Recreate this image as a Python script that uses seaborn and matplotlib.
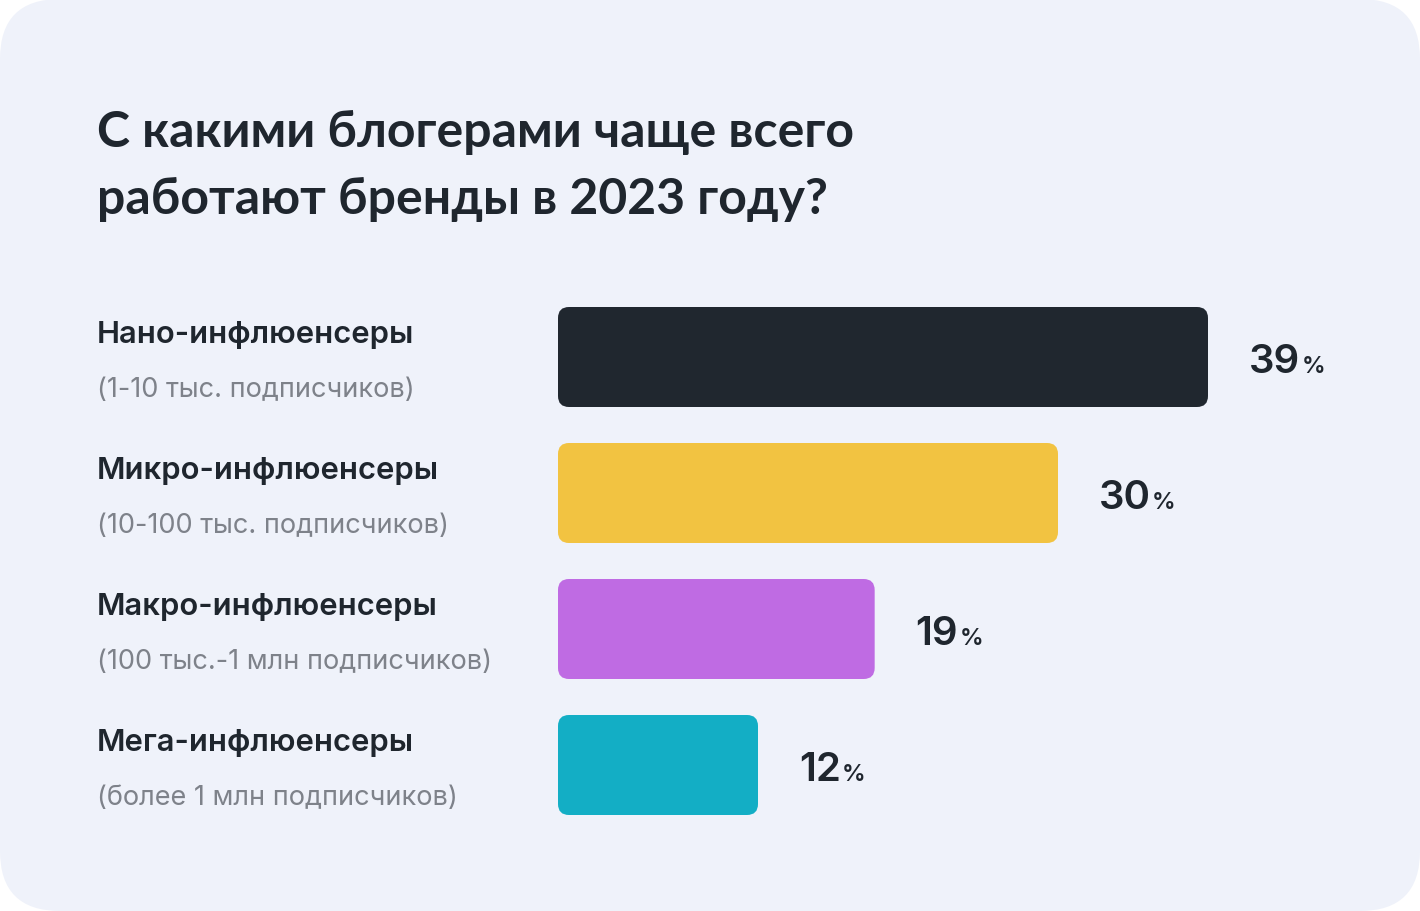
import matplotlib
matplotlib.use("Agg")
import matplotlib.pyplot as plt
from matplotlib.patches import FancyBboxPatch
import seaborn as sns
import pandas as pd

# ---- data ----
title_lines = ["С какими блогерами чаще всего", "работают бренды в 2023 году?"]
categories = ["Нано-инфлюенсеры", "Микро-инфлюенсеры", "Макро-инфлюенсеры", "Мега-инфлюенсеры"]
subtitles = ["(1-10 тыс. подписчиков)", "(10-100 тыс. подписчиков)",
             "(100 тыс.-1 млн подписчиков)", "(более 1 млн подписчиков)"]
values = [39, 30, 19, 12]
colors = ["#20272F", "#F2C341", "#BF6BE3", "#13AEC5"]

DARK = "#1F262E"
GREY = "#7E828A"
CARD = "#EFF2FA"

sns.set_theme(style="white")
plt.rcParams["font.family"] = ["Lato", "DejaVu Sans"]
LABEL_FONT = ["Inter", "Lato", "DejaVu Sans"]

W, H, DPI = 14.2, 9.12, 100
fig = plt.figure(figsize=(W, H), dpi=DPI, facecolor="white")

card = FancyBboxPatch((0, 0), W, H, boxstyle="round,pad=0,rounding_size=0.6",
                      transform=fig.dpi_scale_trans, facecolor=CARD, edgecolor="none",
                      zorder=-10)
fig.patches.append(card)

# axes: bars start at x=558 px, full (39) length 650 px; rows 136 px apart from y=290
ax = fig.add_axes([558 / 1420, 1 - 834 / 912, 650 / 1420, 544 / 912])
ax.set_facecolor("none")
ax.set_zorder(5)

df = pd.DataFrame({"cat": categories, "val": values})
sns.barplot(data=df, x="val", y="cat", hue="cat", palette=colors, legend=False,
            width=100 / 136, ax=ax, orient="h", saturation=1)
ax.set_xlim(0, 39)
ax.set_ylim(3.5, -0.5)
ax.axis("off")

# replace rectangles by rounded ones
x_per_px = 39 / 650
y_per_px = 1 / 136
r_px = 11
for p in list(ax.patches):
    x0, y0 = p.get_x(), p.get_y()
    w, h = p.get_width(), p.get_height()
    fc = p.get_facecolor()
    p.remove()
    fb = FancyBboxPatch((x0, y0), w, h,
                        boxstyle=f"round,pad=0,rounding_size={r_px * x_per_px}",
                        mutation_aspect=y_per_px / x_per_px,
                        facecolor=fc, edgecolor="none", clip_on=False)
    ax.add_patch(fb)

pt = 72 / DPI  # points per pixel

# title
fig.text(97 / 1420, 1 - 147 / 912, title_lines[0], fontsize=36, fontweight="bold",
         color=DARK, va="baseline", ha="left")
fig.text(97 / 1420, 1 - 214 / 912, title_lines[1], fontsize=36, fontweight="bold",
         color=DARK, va="baseline", ha="left")

for i, (cat, sub, v) in enumerate(zip(categories, subtitles, values)):
    ax.annotate(cat, xy=(97 / 1420, i), xycoords=("figure fraction", "data"),
                xytext=(0, 15 * pt), textcoords="offset points", family=LABEL_FONT,
                fontsize=22.3, fontweight="semibold", color=DARK, va="baseline", ha="left",
                annotation_clip=False)
    ax.annotate(sub, xy=(97 / 1420, i), xycoords=("figure fraction", "data"),
                xytext=(0, -39 * pt), textcoords="offset points", family=LABEL_FONT,
                fontsize=19.5, color=GREY, va="baseline", ha="left",
                annotation_clip=False)
    t = ax.annotate(f"{v}", xy=(v, i), xycoords="data",
                    xytext=(41 * pt, -15 * pt), textcoords="offset points",
                    family=LABEL_FONT,
                    fontsize=29, fontweight="semibold", color=DARK, va="baseline", ha="left",
                    annotation_clip=False)
    ax.annotate("%", xy=(1, i), xycoords=(t, "data"),
                xytext=(1 * pt, -15 * pt), textcoords="offset points", family=LABEL_FONT,
                fontsize=17, fontweight="semibold", color=DARK, va="baseline", ha="left",
                annotation_clip=False)

fig.savefig("out.png", dpi=DPI, facecolor="white")
